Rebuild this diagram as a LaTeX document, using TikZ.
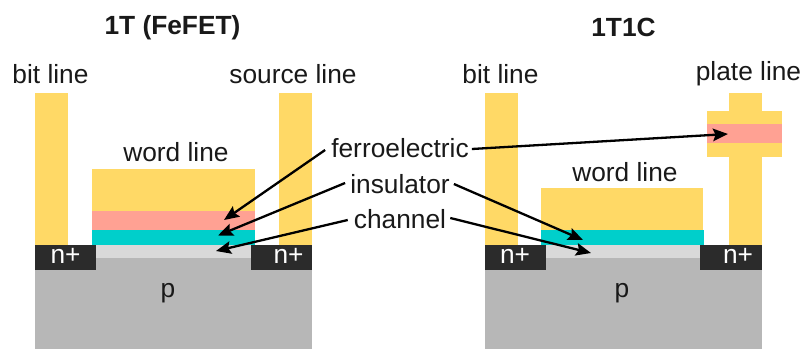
\documentclass[tikz,border=0pt]{standalone}
\usepackage{fontspec}
\setmainfont{Liberation Sans}
\usetikzlibrary{arrows.meta}
\definecolor{metal}{HTML}{FFD966}
\definecolor{ferro}{HTML}{FFA193}
\definecolor{insul}{HTML}{00CFCB}
\definecolor{chan}{HTML}{D9D9D9}
\definecolor{sub}{HTML}{B7B7B7}
\definecolor{dope}{HTML}{2B2B2B}
\tikzset{
  lbl/.style={font=\fontsize{26.3}{28}\selectfont,inner sep=0pt,text=black!90},
  ttl/.style={font=\fontsize{26.3}{28}\selectfont\bfseries,inner sep=0pt,text=black!90},
  dop/.style={font=\fontsize{26.3}{28}\selectfont,inner sep=0pt,text=white},
  ptr/.style={line width=2.3pt,black,-{Stealth[length=15pt,width=12.5pt,inset=2.5pt]}}
}
\begin{document}
\begin{tikzpicture}[x=1pt,y=-1pt]
\useasboundingbox (0,0) rectangle (801,349);
% left device
\fill[metal] (35,93) rectangle (68,246);
\fill[metal] (279,93) rectangle (312,246);
\fill[metal] (92,169) rectangle (255,211);
\fill[ferro] (92,210.5) rectangle (255,230);
\fill[insul] (92,229.5) rectangle (255,246);
\fill[sub] (35,258) rectangle (312,349);
\fill[chan] (96,245) rectangle (251,258);
\fill[dope] (35,245) rectangle (96,270);
\fill[dope] (250.5,245) rectangle (312,270);
% right device
\fill[metal] (485,93) rectangle (517.5,246);
\fill[metal] (728.5,93) rectangle (761.5,112);
\fill[metal] (707,111) rectangle (781.5,157);
\fill[ferro] (707,124) rectangle (781.5,143);
\fill[metal] (729,156) rectangle (761.5,246);
\fill[metal] (541,188) rectangle (703,231);
\fill[insul] (541,230) rectangle (704,246);
\fill[sub] (485,258) rectangle (761.5,349);
\fill[chan] (546,245) rectangle (700,258);
\fill[dope] (485,245) rectangle (546,270);
\fill[dope] (700,245) rectangle (761.5,270);
% labels
\node[ttl] (t1) at (172.5,28) {1T (FeFET)};
\node[ttl] (t2) at (623.5,27) {1T1C};
\node[lbl] (bl1) at (50.5,74) {bit line};
\node[lbl] (sl) at (293,74) {source line};
\node[lbl] (bl2) at (500.5,74) {bit line};
\node[lbl] (pl) at (748.5,74) {plate line};
\node[lbl] (wl1) at (176,152) {word line};
\node[lbl] (wl2) at (625,172) {word line};
\node[lbl] (fe) at (400,148) {ferroelectric};
\node[lbl] (ins) at (400,184) {insulator};
\node[lbl] (ch) at (400,219) {channel};
\node[dop] (n1) at (65.5,256) {n+};
\node[dop] (n2) at (288.5,256) {n+};
\node[dop] (n3) at (515,256) {n+};
\node[dop] (n4) at (738,256) {n+};
\node[lbl] (p1) at (168,293) {p};
\node[lbl] (p2) at (622,293) {p};
% arrow ends
\coordinate (a1) at (224,220);
\coordinate (a2) at (218,235.5);
\coordinate (a3) at (216,251);
\coordinate (a4) at (728,134);
\coordinate (a5) at (583,240);
\coordinate (a6) at (591,253);
\draw[ptr] (fe.west) ++(-6,2) -- (a1);
\draw[ptr] (ins.west) ++(-5,-1) -- (a2);
\draw[ptr] (ch.west) ++(-6,1) -- (a3);
\draw[ptr] (fe.east) ++(3,1) -- (a4);
\draw[ptr] (ins.east) ++(4,0) -- (a5);
\draw[ptr] (ch.east) ++(4,-1) -- (a6);
\end{tikzpicture}
\end{document}
